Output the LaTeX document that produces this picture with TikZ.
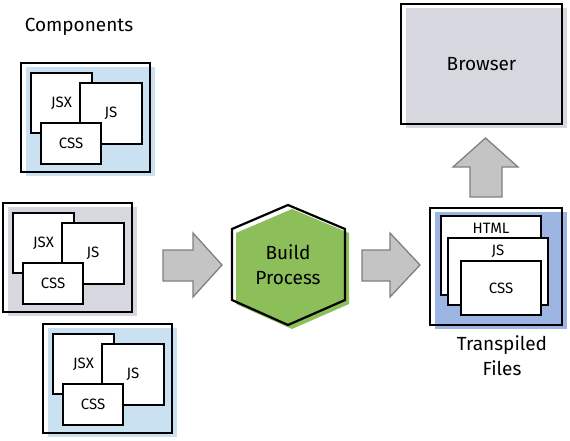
\documentclass[tikz,border=0pt]{standalone}
\usepackage{fontspec}
\setmainfont{Fira Sans}
\usetikzlibrary{positioning,shadows}

\definecolor{compblue}{HTML}{C9E1F1}
\definecolor{compgrey}{HTML}{D7D7DF}
\definecolor{buildgreen}{HTML}{8CBE5A}
\definecolor{filesblue}{HTML}{9DB5E3}
\definecolor{arrowfill}{HTML}{C4C4C4}
\definecolor{arrowline}{HTML}{808080}

\begin{document}
\begin{tikzpicture}[x=1pt, y=-1pt,
    frame/.style={draw, line width=2.7pt, general shadow={fill=#1, shadow xshift=5pt, shadow yshift=-4pt}},
    file/.style={draw, fill=white, line width=2.2pt, font=\fontsize{15}{17}\selectfont},
    lbl/.style={font=\fontsize{19}{25}\selectfont, align=center},
    blockarr/.style={fill=arrowfill, draw=arrowline, line width=1.3pt, line join=miter}
]
\useasboundingbox (0,0) rectangle (570,441);

% components
\node[lbl] (comptitle) at (79,27) {Components};

\node[frame=compblue, minimum width=129pt, minimum height=109pt] (compa) at (85.5,117.5) {};
\node[file, minimum width=61pt, minimum height=60pt] (jsxa) at (61.5,103) {JSX};
\node[file, minimum width=62pt, minimum height=61pt] (jsa) at (111,113.5) {JS};
\node[file, minimum width=60pt, minimum height=41pt] (cssa) at (71,143.5) {CSS};

\node[frame=compgrey, minimum width=129pt, minimum height=109pt] (compb) at (67.5,257.5) {};
\node[file, minimum width=61pt, minimum height=60pt] (jsxb) at (43.5,243) {JSX};
\node[file, minimum width=62pt, minimum height=61pt] (jsb) at (93,253.5) {JS};
\node[file, minimum width=60pt, minimum height=41pt] (cssb) at (53,283.5) {CSS};

\node[frame=compblue, minimum width=129pt, minimum height=109pt] (compc) at (107.5,378.5) {};
\node[file, minimum width=61pt, minimum height=60pt] (jsxc) at (83.5,364) {JSX};
\node[file, minimum width=62pt, minimum height=61pt] (jsc) at (133,374.5) {JS};
\node[file, minimum width=60pt, minimum height=41pt] (cssc) at (93,404.5) {CSS};

% build step
\draw[blockarr] (163,250) -- (193,250) -- (193,233) -- (222,265) -- (193,297) -- (193,281) -- (163,281) -- cycle;
\draw[line width=2.2pt, line join=miter, general shadow={fill=buildgreen, shadow xshift=4pt, shadow yshift=-4pt}]
    (288,205) -- (345,229) -- (345,300) -- (288,325) -- (232,300) -- (232,229) -- cycle;
\node[lbl] (build) at (288,265) {Build\\Process};
\draw[blockarr] (362,250) -- (390,250) -- (390,233) -- (420,265) -- (390,297) -- (390,281) -- (362,281) -- cycle;

% output
\node[frame=filesblue, minimum width=132pt, minimum height=117pt] (files) at (496,266.5) {};
\node[file, minimum width=100pt, minimum height=79pt, label={[anchor=north, yshift=-5pt, font=\fontsize{15}{17}\selectfont]north:HTML}] (html) at (491,255.5) {};
\node[file, minimum width=100pt, minimum height=67pt, label={[anchor=north, yshift=-5pt, font=\fontsize{15}{17}\selectfont]north:JS}] (jsout) at (498,271.5) {};
\node[file, minimum width=80pt, minimum height=54pt] (cssout) at (501,288) {CSS};
\node[lbl] (filestitle) at (502,355.5) {Transpiled\\Files};

\draw[blockarr] (470,197) -- (470,167) -- (453,167) -- (485.5,138) -- (518,167) -- (502,167) -- (502,197) -- cycle;
\node[frame=compgrey, minimum width=161pt, minimum height=120pt, lbl] (browser) at (481.5,64) {Browser};
\end{tikzpicture}
\end{document}
